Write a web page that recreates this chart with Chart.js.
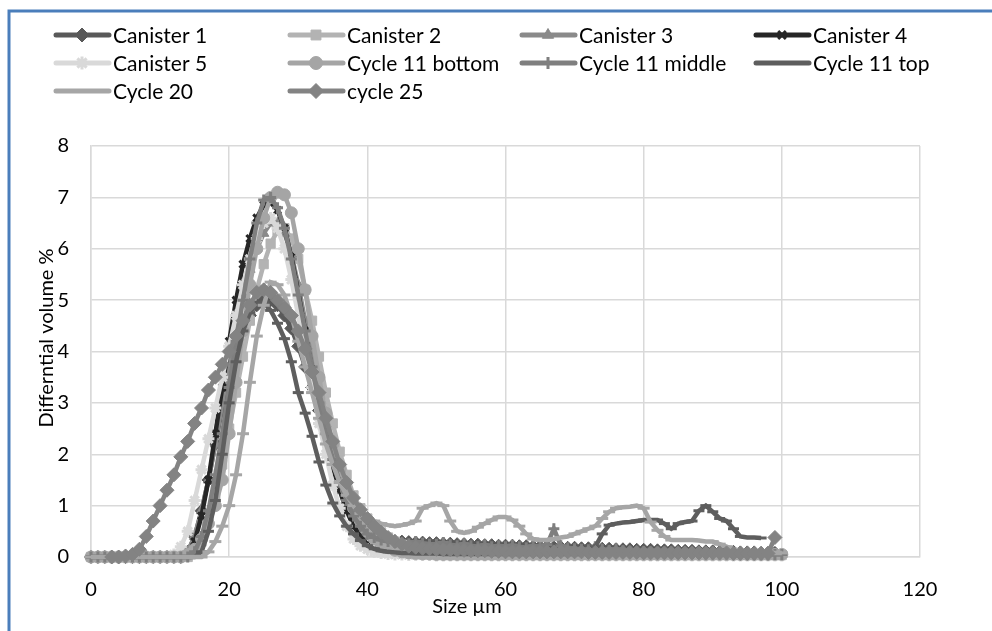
<!DOCTYPE html>
<html>
<head>
<meta charset="utf-8">
<title>Particle size distribution</title>
<script src="https://cdn.jsdelivr.net/npm/chart.js"></script>
<style>
    body { margin: 0; background: #fff; overflow: hidden; }
    #chart-box { position: absolute; left: 0; top: 0; width: 992px; height: 631px; }
</style>
</head>
<body>
<div id="chart-box"><canvas id="psd-chart" width="992" height="631"></canvas></div>
<script>
// Size classes (µm)
const sizes = [
    0, 1, 2, 3, 4, 5, 6, 7, 8, 9,
    10, 11, 12, 13, 14, 15, 16, 17, 18, 19,
    20, 21, 22, 23, 24, 25, 26, 27, 28, 29,
    30, 31, 32, 33, 34, 35, 36, 37, 38, 39,
    40, 41, 42, 43, 44, 45, 46, 47, 48, 49,
    50, 51, 52, 53, 54, 55, 56, 57, 58, 59,
    60, 61, 62, 63, 64, 65, 66, 67, 68, 69,
    70, 71, 72, 73, 74, 75, 76, 77, 78, 79,
    80, 81, 82, 83, 84, 85, 86, 87, 88, 89,
    90, 91, 92, 93, 94, 95, 96, 97, 98, 99,
    100
];

// Differential volume % per sample
const canister1 = [
    0, 0, 0, 0, 0, 0, 0, 0, 0, 0,
    0, 0, 0, 0, 0.1, 0.4, 0.9, 1.5, 2.2, 2.9,
    3.5, 4.0, 4.4, 4.7, 4.9, 5.0, 5.0, 4.9, 4.7, 4.45,
    4.1, 3.7, 3.3, 2.85, 2.4, 2.0, 1.6, 1.25, 0.95, 0.72,
    0.55, 0.45, 0.38, 0.34, 0.31, 0.3, 0.29, 0.28, 0.28, 0.27,
    0.27, 0.26, 0.26, 0.25, 0.25, 0.24, 0.24, 0.23, 0.23, 0.22,
    0.22, 0.22, 0.21, 0.21, 0.2, 0.2, 0.2, 0.19, 0.19, 0.18,
    0.18, 0.17, 0.17, 0.16, 0.16, 0.16, 0.15, 0.15, 0.15, 0.14,
    0.14, 0.14, 0.13, 0.13, 0.13, 0.12, 0.12, 0.12, 0.11, 0.11,
    0.11, 0.1, 0.1, 0.1, 0.09, 0.09, 0.09, 0.08, 0.08, 0.08,
    null
];
const canister2 = [
    0, 0, 0, 0, 0, 0, 0, 0, 0, 0,
    0, 0, 0, 0, 0, 0.1, 0.3, 0.7, 1.2, 1.8,
    2.5, 3.2, 3.9, 4.6, 5.2, 5.7, 6.1, 6.35, 6.4, 6.2,
    5.8, 5.2, 4.6, 3.9, 3.2, 2.6, 2.05, 1.6, 1.2, 0.95,
    0.75, 0.6, 0.48, 0.38, 0.3, 0.24, 0.2, 0.17, 0.15, 0.13,
    0.12, 0.11, 0.1, 0.1, 0.09, 0.09, 0.08, 0.08, 0.08, 0.07,
    0.07, 0.07, 0.07, 0.06, 0.06, 0.06, 0.06, 0.06, 0.05, 0.05,
    0.05, 0.05, 0.05, 0.05, 0.05, 0.05, 0.05, 0.05, 0.05, 0.05,
    0.05, 0.05, 0.05, 0.05, 0.04, 0.04, 0.04, 0.04, 0.04, 0.04,
    0.04, 0.04, 0.04, 0.04, 0.04, 0.04, 0.04, 0.04, 0.04, 0.04,
    0.04
];
const canister3 = [
    0, 0, 0, 0, 0, 0, 0, 0, 0, 0,
    0, 0, 0, 0, 0.1, 0.4, 0.9, 1.5, 2.2, 3.0,
    3.8, 4.5, 5.1, 5.6, 6.0, 6.3, 6.5, 6.5, 6.3, 5.9,
    5.3, 4.6, 3.9, 3.2, 2.6, 2.0, 1.5, 1.1, 0.8, 0.55,
    0.4, 0.3, 0.22, 0.17, 0.14, 0.12, 0.1, 0.09, 0.08, 0.08,
    0.07, 0.07, 0.06, 0.06, 0.06, 0.06, 0.05, 0.05, 0.05, 0.05,
    0.05, 0.05, 0.05, 0.05, 0.05, 0.05, 0.05, 0.05, 0.05, 0.05,
    0.05, 0.05, 0.04, 0.04, 0.04, 0.04, 0.04, 0.04, 0.04, 0.04,
    0.04, 0.04, 0.04, 0.04, 0.04, 0.04, 0.04, 0.04, 0.04, 0.04,
    0.04, 0.04, 0.04, 0.04, 0.04, 0.04, 0.04, 0.04, 0.04, 0.04,
    0.04
];
const canister4 = [
    0, 0, 0, 0, 0, 0, 0, 0, 0, 0,
    0, 0, 0, 0, 0.05, 0.3, 0.8, 1.5, 2.4, 3.3,
    4.2, 5.0, 5.7, 6.2, 6.6, 6.85, 6.9, 6.75, 6.4, 5.85,
    5.15, 4.4, 3.65, 2.95, 2.3, 1.75, 1.3, 0.9, 0.6, 0.4,
    0.25, 0.15, 0.1, 0.08, 0.06, 0.05, 0.05, 0.04, 0.04, 0.04,
    0.03, 0.03, 0.03, 0.04, 0.03, 0.03, 0.03, 0.05, 0.03, 0.03,
    0.03, 0.03, 0.04, 0.03, 0.03, 0.05, 0.03, 0.03, 0.03, 0.03,
    0.03, 0.03, 0.03, 0.03, 0.03, 0.03, 0.03, 0.03, 0.03, 0.03,
    0.03, 0.03, 0.03, 0.03, 0.03, 0.03, 0.03, 0.03, 0.03, 0.03,
    0.03, 0.03, 0.03, 0.03, 0.03, 0.05, 0.03, 0.03, 0.03, 0.03,
    0.03
];
const canister5 = [
    0, 0, 0, 0, 0, 0, 0, 0, 0, 0,
    0, 0, 0.05, 0.2, 0.5, 1.1, 1.7, 2.3, 2.9, 3.5,
    4.1, 4.7, 5.3, 5.8, 6.2, 6.5, 6.6, 6.4, 6.0, 5.4,
    4.7, 4.0, 3.3, 2.6, 2.0, 1.4, 0.95, 0.6, 0.35, 0.22,
    0.15, 0.1, 0.08, 0.06, 0.05, 0.05, 0.04, 0.04, 0.04, 0.04,
    0.03, 0.03, 0.03, 0.03, 0.03, 0.03, 0.03, 0.03, 0.03, 0.03,
    0.03, 0.03, 0.03, 0.03, 0.03, 0.03, 0.03, 0.03, 0.03, 0.03,
    0.03, 0.03, 0.03, 0.03, 0.03, 0.03, 0.03, 0.03, 0.03, 0.03,
    0.03, 0.03, 0.03, 0.03, 0.03, 0.03, 0.03, 0.03, 0.03, 0.03,
    0.03, 0.03, 0.03, 0.03, 0.03, 0.03, 0.03, 0.03, 0.03, 0.03,
    0.03
];
const cycle11Bottom = [
    0, 0, 0, 0, 0, 0, 0, 0, 0, 0,
    0, 0, 0, 0, 0.05, 0.15, 0.35, 0.65, 1.0, 1.5,
    2.4, 3.4, 4.4, 5.3, 6.0, 6.6, 7.0, 7.1, 7.05, 6.7,
    6.0, 5.2, 4.3, 3.5, 2.8, 2.2, 1.7, 1.3, 0.95, 0.7,
    0.5, 0.35, 0.25, 0.18, 0.13, 0.1, 0.08, 0.07, 0.06, 0.06,
    0.05, 0.05, 0.05, 0.05, 0.05, 0.05, 0.05, 0.05, 0.05, 0.05,
    0.05, 0.05, 0.05, 0.05, 0.05, 0.05, 0.05, 0.05, 0.05, 0.05,
    0.05, 0.05, 0.05, 0.05, 0.05, 0.05, 0.05, 0.05, 0.05, 0.05,
    0.05, 0.05, 0.05, 0.05, 0.05, 0.05, 0.05, 0.05, 0.05, 0.05,
    0.05, 0.05, 0.05, 0.05, 0.05, 0.05, 0.05, 0.05, 0.05, 0.05,
    0.05
];
const cycle11Middle = [
    0, 0, 0, 0, 0, 0, 0, 0, 0, 0,
    0, 0, 0, 0, 0, 0.1, 0.4, 0.9, 1.6, 2.4,
    3.3, 4.2, 5.0, 5.8, 6.5, 6.95, 7.0, 6.8, 6.4, 5.8,
    5.1, 4.4, 3.7, 3.0, 2.4, 1.9, 1.45, 1.1, 0.8, 0.6,
    0.45, 0.38, 0.33, 0.3, 0.28, 0.27, 0.26, 0.3, 0.27, 0.25,
    0.25, 0.28, 0.24, 0.22, 0.26, 0.22, 0.2, 0.24, 0.2, 0.22,
    0.2, 0.23, 0.2, 0.18, 0.22, 0.2, 0.24, 0.55, 0.22, 0.18,
    0.16, 0.15, 0.14, 0.2, 0.15, 0.13, 0.16, 0.12, 0.11, 0.1,
    0.1, 0.09, 0.09, 0.08, 0.08, 0.08, 0.07, 0.07, 0.07, 0.06,
    0.06, 0.06, 0.06, 0.06, 0.06, 0.05, 0.05, 0.05, 0.05, 0.05,
    0.05
];
const cycle11Top = [
    0, 0, 0, 0, 0, 0, 0, 0, 0, 0,
    0, 0, 0, 0, 0, 0, 0.1, 0.5, 1.1, 2.0,
    3.0, 3.8, 4.4, 4.75, 4.95, 4.95, 4.8, 4.55, 4.25, 3.8,
    3.2, 2.8, 2.35, 1.85, 1.4, 1.05, 0.8, 0.6, 0.45, 0.32,
    0.22, 0.16, 0.12, 0.1, 0.09, 0.08, 0.08, 0.07, 0.07, 0.07,
    0.07, 0.06, 0.06, 0.06, 0.06, 0.06, 0.06, 0.06, 0.06, 0.06,
    0.06, 0.06, 0.06, 0.06, 0.06, 0.06, 0.06, 0.06, 0.06, 0.06,
    0.06, 0.06, 0.1, 0.2, 0.45, 0.62, 0.65, 0.67, 0.68, 0.7,
    0.72, 0.72, 0.72, 0.65, 0.55, 0.65, 0.68, 0.7, 0.9, 1.0,
    0.88, 0.75, 0.7, 0.55, 0.4, 0.38, 0.38, 0.37, null, null,
    null
];
const cycle20 = [
    0, 0, 0, 0, 0, 0, 0, 0, 0, 0,
    0, 0, 0, 0, 0, 0, 0, 0.1, 0.3, 0.6,
    1.0, 1.6, 2.4, 3.4, 4.3, 4.9, 5.35, 5.3, 5.1, 4.7,
    4.2, 3.7, 3.2, 2.7, 2.2, 1.8, 1.45, 1.2, 1.0, 0.85,
    0.75, 0.7, 0.65, 0.62, 0.6, 0.62, 0.65, 0.7, 0.95, 1.0,
    1.05, 1.0, 0.7, 0.5, 0.47, 0.5, 0.58, 0.65, 0.72, 0.78,
    0.78, 0.72, 0.6, 0.45, 0.35, 0.33, 0.33, 0.35, 0.38, 0.4,
    0.45, 0.5, 0.55, 0.6, 0.75, 0.88, 0.95, 0.97, 0.98, 1.0,
    0.95, 0.68, 0.52, 0.4, 0.33, 0.33, 0.33, 0.33, 0.32, 0.3,
    0.3, 0.25, 0.2, 0.15, 0.12, 0.1, 0.1, 0.09, 0.09, 0.08,
    0.08
];
const cycle25 = [
    null, null, null, 0, 0, 0.02, 0.05, 0.15, 0.4, 0.7,
    1.0, 1.3, 1.6, 1.95, 2.25, 2.6, 2.9, 3.25, 3.5, 3.75,
    4.0, 4.3, 4.6, 4.9, 5.15, 5.2, 5.15, 5.0, 4.85, 4.7,
    4.4, 4.05, 3.6, 3.2, 2.7, 2.25, 1.8, 1.45, 1.15, 0.92,
    0.75, 0.6, 0.48, 0.38, 0.3, 0.25, 0.21, 0.19, 0.17, 0.16,
    0.15, 0.14, 0.14, 0.13, 0.13, 0.12, 0.12, 0.12, 0.11, 0.11,
    0.1, 0.1, 0.1, 0.1, 0.1, 0.1, 0.1, 0.1, 0.1, 0.1,
    0.1, 0.1, 0.09, 0.09, 0.09, 0.09, 0.09, 0.09, 0.09, 0.09,
    0.08, 0.08, 0.08, 0.08, 0.08, 0.08, 0.08, 0.08, 0.08, 0.08,
    0.08, 0.08, 0.08, 0.07, 0.07, 0.07, 0.07, 0.07, 0.07, 0.38,
    null
];

// Axis ticks
const xTicks = [0, 20, 40, 60, 80, 100, 120];
const yTicks = [0, 1, 2, 3, 4, 5, 6, 7, 8];

const FONT = 'Lato, "Open Sans", sans-serif';

// Series look (Excel monochrome palette)
const seriesDefs = [
    { label: 'Canister 1',       data: canister1,     color: '#595959', style: 'rectRot',  radius: 6.5 },
    { label: 'Canister 2',       data: canister2,     color: '#b3b3b3', style: 'rect',     radius: 6.5 },
    { label: 'Canister 3',       data: canister3,     color: '#8a8a8a', style: 'triangle', radius: 6 },
    { label: 'Canister 4',       data: canister4,     color: '#262626', style: 'crossRot', radius: 5 },
    { label: 'Canister 5',       data: canister5,     color: '#d9d9d9', style: 'star',     radius: 6 },
    { label: 'Cycle 11 bottom',  data: cycle11Bottom, color: '#a5a5a5', style: 'circle',   radius: 6 },
    { label: 'Cycle 11 middle',  data: cycle11Middle, color: '#7f7f7f', style: 'cross',    radius: 5.5 },
    { label: 'Cycle 11 top',     data: cycle11Top,    color: '#5e5e5e', style: 'line',     radius: 5.5 },
    { label: 'Cycle 20',         data: cycle20,       color: '#a6a6a6', style: 'line',     radius: 6 },
    { label: 'cycle 25',         data: cycle25,       color: '#838383', style: 'rectRot',  radius: 7 }
];

function toPoints(values) {
    const pts = [];
    values.forEach((v, i) => {
        if (v !== null) pts.push({ x: sizes[i], y: v });
    });
    return pts;
}

const datasets = seriesDefs.map((s, i) => ({
    label: s.label,
    data: toPoints(s.data),
    borderColor: s.color,
    backgroundColor: s.color,
    borderWidth: 4.5,
    pointStyle: s.style,
    pointRadius: s.radius,
    pointBorderColor: s.color,
    pointBackgroundColor: s.color,
    pointBorderWidth: (s.style === 'line' || s.style === 'cross' || s.style === 'crossRot' || s.style === 'star') ? 3 : 1,
    tension: 0,
    clip: 12,
    // later series sit on top, like the original
    order: seriesDefs.length - i
}));

/**
 * Frame, axis titles and a 4-column legend
 */
const decorPlugin = {
    id: 'decor',
    beforeDraw(chart) {
        const ctx = chart.ctx;
        ctx.save();
        ctx.fillStyle = '#ffffff';
        ctx.fillRect(0, 0, chart.width, chart.height);
        ctx.strokeStyle = '#4a7ebb';
        ctx.lineWidth = 3;
        ctx.beginPath();
        ctx.moveTo(9, chart.height);
        ctx.lineTo(9, 11);
        ctx.lineTo(chart.width, 11);
        ctx.stroke();
        ctx.restore();
    },
    afterDraw(chart) {
        const ctx = chart.ctx;
        const colX = [54, 288, 520, 754];
        const rowY = [35, 63, 91];

        ctx.save();
        ctx.font = '21px ' + FONT;
        ctx.textBaseline = 'middle';
        ctx.textAlign = 'left';

        chart.data.datasets.forEach((ds, i) => {
            const x = colX[i % 4];
            const y = rowY[Math.floor(i / 4)];
            ctx.strokeStyle = ds.borderColor;
            ctx.lineWidth = 5;
            ctx.lineCap = 'round';
            ctx.beginPath();
            ctx.moveTo(x + 2, y);
            ctx.lineTo(x + 55, y);
            ctx.stroke();

            ctx.fillStyle = ds.pointBackgroundColor;
            ctx.strokeStyle = ds.pointBorderColor;
            ctx.lineWidth = ds.pointBorderWidth;
            ctx.lineCap = 'butt';
            Chart.helpers.drawPoint(ctx, {
                pointStyle: ds.pointStyle,
                radius: ds.pointRadius + 0.5,
                rotation: 0,
                borderWidth: ds.pointBorderWidth
            }, x + 28, y);

            ctx.fillStyle = '#000';
            ctx.fillText(ds.label, x + 59, y + 1);
        });

        // axis titles
        ctx.font = '20px ' + FONT;
        ctx.fillStyle = '#000';
        ctx.textAlign = 'center';
        ctx.fillText('Size µm', 467, 607);

        ctx.translate(47, 338);
        ctx.rotate(-Math.PI / 2);
        ctx.fillText('Differntial volume %', 0, 0);
        ctx.restore();
    }
};

const ctx = document.getElementById('psd-chart').getContext('2d');
const psdChart = new Chart(ctx, {
    type: 'line',
    data: { datasets: datasets },
    options: {
        responsive: false,
        animation: false,
        layout: { padding: { left: 0, top: 146, right: 72, bottom: 0 } },
        plugins: {
            legend: { display: false },
            tooltip: { enabled: false }
        },
        scales: {
            x: {
                type: 'linear',
                min: 0,
                max: 120,
                afterBuildTicks: function(scale) {
                    scale.ticks = xTicks.map(v => ({ value: v }));
                },
                afterFit: function(scale) { scale.height = 74; },
                grid: { color: '#d9d9d9', lineWidth: 1.5, drawTicks: false },
                border: { color: '#d9d9d9', width: 1.5 },
                ticks: {
                    padding: 21,
                    color: '#000',
                    font: { family: FONT, size: 20 },
                    maxRotation: 0
                }
            },
            y: {
                min: 0,
                max: 8,
                afterBuildTicks: function(scale) {
                    scale.ticks = yTicks.map(v => ({ value: v }));
                },
                afterFit: function(scale) { scale.width = 91; },
                grid: { color: '#d9d9d9', lineWidth: 1.5, drawTicks: false },
                border: { color: '#d9d9d9', width: 1.5 },
                ticks: {
                    padding: 22,
                    color: '#000',
                    font: { family: FONT, size: 20 }
                }
            }
        }
    },
    plugins: [decorPlugin]
});
</script>
</body>
</html>
